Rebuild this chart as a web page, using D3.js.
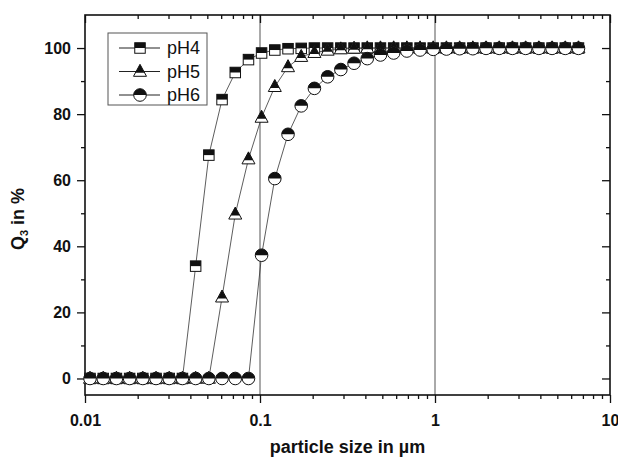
<!DOCTYPE html>
<html>
<head>
<meta charset="utf-8">
<script src="https://cdn.jsdelivr.net/npm/d3@7"></script>
<style>
  html, body { margin: 0; padding: 0; background: #fff; }
  svg { display: block; }
  text { font-family: "Liberation Sans", Arial, Helvetica, sans-serif; }
</style>
</head>
<body>
<svg id="chart" width="618" height="459"></svg>
<script>
// ---- data ----
const particleSize = [
  0.01068, 0.01271, 0.01512, 0.01799, 0.02140, 0.02546, 0.03029, 0.03604,
  0.04288, 0.05102, 0.06070, 0.07222, 0.08593, 0.1021, 0.1215, 0.1446,
  0.1720, 0.2046, 0.2435, 0.2897, 0.3447, 0.4101, 0.4879, 0.5805,
  0.6906, 0.8217, 0.9767, 1.162, 1.383, 1.645, 1.957, 2.328,
  2.770, 3.296, 3.922, 4.666, 5.551, 6.605
];
const pH4 = [
  0, 0, 0, 0, 0, 0, 0, 0,
  34, 67.6, 84.4, 92.6, 96.5, 98.5, 99.4, 99.8,
  99.9, 100, 100, 100, 100, 100, 100, 100,
  100, 100, 100, 100, 100, 100, 100, 100,
  100, 100, 100, 100, 100, 100
];
const pH5 = [
  0, 0, 0, 0, 0, 0, 0, 0,
  0, 0, 24.6, 49.7, 66.4, 79, 88.3, 94.3,
  97.4, 98.6, 99.3, 99.7, 99.9, 100, 100, 100,
  100, 100, 100, 100, 100, 100, 100, 100,
  100, 100, 100, 100, 100, 100
];
const pH6 = [
  0, 0, 0, 0, 0, 0, 0, 0,
  0, 0, 0, 0, 0, 37.3, 60.5, 73.9,
  82.5, 87.8, 91.3, 93.5, 95.4, 96.8, 97.9, 98.5,
  99.1, 99.4, 99.6, 99.7, 99.8, 99.8, 99.9, 99.9,
  99.9, 99.9, 99.9, 99.9, 99.9, 99.9
];
const seriesNames = ["pH4", "pH5", "pH6"];
const seriesShapes = ["square", "triangle", "circle"];
const xTickValues = [0.01, 0.1, 1, 10];
const xTickLabels = ["0.01", "0.1", "1", "10"];
const xGridValues = [0.1, 1];
const yTickValues = [0, 20, 40, 60, 80, 100];
const yTickLabels = ["0", "20", "40", "60", "80", "100"];
const yMinorValues = [10, 30, 50, 70, 90];

// ---- layout ----
const W = 618, H = 459;
const margin = { left: 85, top: 15, right: 8, bottom: 64 };
const x = d3.scaleLog().domain([0.01, 10]).range([margin.left, W - margin.right]);
const y = d3.scaleLinear().domain([-5, 110]).range([H - margin.bottom, margin.top]);
const x0 = x.range()[0], x1 = x.range()[1], y0 = y.range()[0], y1 = y.range()[1];

const svg = d3.select("#chart");
const xMinorValues = [];
[0.01, 0.1, 1].forEach(dec => { for (let k = 2; k <= 9; k++) xMinorValues.push(+(dec * k).toPrecision(3)); });

// grid lines at 0.1 and 1
svg.append("g").selectAll("line").data(xGridValues).join("line")
  .attr("x1", d => x(d)).attr("x2", d => x(d))
  .attr("y1", y1).attr("y2", y0)
  .attr("stroke", "#555").attr("stroke-width", 1);

function styleAxis(g) {
  g.select(".domain").remove();
  g.selectAll(".tick line").attr("stroke", "#111").attr("stroke-width", 1.3);
  g.selectAll(".tick text").attr("fill", "#111")
    .style("font-size", "16px").style("font-weight", "bold");
}

// bottom axis (outward ticks)
svg.append("g").attr("transform", `translate(0,${y0})`)
  .call(d3.axisBottom(x).tickValues(xTickValues).tickSize(8).tickSizeOuter(0)
    .tickPadding(12).tickFormat((d, i) => xTickLabels[i]))
  .call(styleAxis);
svg.append("g").attr("transform", `translate(0,${y0})`)
  .call(d3.axisBottom(x).tickValues(xMinorValues).tickSize(4).tickSizeOuter(0).tickFormat(""))
  .call(styleAxis);
// top axis (inward ticks)
svg.append("g").attr("transform", `translate(0,${y1})`)
  .call(d3.axisBottom(x).tickValues(xTickValues).tickSize(8).tickSizeOuter(0).tickFormat(""))
  .call(styleAxis);
svg.append("g").attr("transform", `translate(0,${y1})`)
  .call(d3.axisBottom(x).tickValues(xMinorValues).tickSize(4).tickSizeOuter(0).tickFormat(""))
  .call(styleAxis);
// left axis (outward ticks)
svg.append("g").attr("transform", `translate(${x0},0)`)
  .call(d3.axisLeft(y).tickValues(yTickValues).tickSize(8).tickSizeOuter(0)
    .tickPadding(6).tickFormat((d, i) => yTickLabels[i]))
  .call(styleAxis);
svg.append("g").attr("transform", `translate(${x0},0)`)
  .call(d3.axisLeft(y).tickValues(yMinorValues).tickSize(4).tickSizeOuter(0).tickFormat(""))
  .call(styleAxis);
// right axis (inward ticks)
svg.append("g").attr("transform", `translate(${x1},0)`)
  .call(d3.axisLeft(y).tickValues(yTickValues).tickSize(8).tickSizeOuter(0).tickFormat(""))
  .call(styleAxis);
svg.append("g").attr("transform", `translate(${x1},0)`)
  .call(d3.axisLeft(y).tickValues(yMinorValues).tickSize(4).tickSizeOuter(0).tickFormat(""))
  .call(styleAxis);

// frame
svg.append("rect").attr("x", x0).attr("y", y1).attr("width", x1 - x0).attr("height", y0 - y1)
  .attr("fill", "none").attr("stroke", "#111").attr("stroke-width", 1.6);

// ---- marker drawing ----
function drawMarker(g, shape) {
  const stroke = "#111", sw = 1;
  if (shape === "square") {
    const s = 10.5;
    g.append("rect").attr("x", -s / 2).attr("y", -s / 2).attr("width", s).attr("height", s)
      .attr("fill", "#fff").attr("stroke", stroke).attr("stroke-width", sw);
    g.append("rect").attr("x", -s / 2).attr("y", -s / 2).attr("width", s).attr("height", s / 2)
      .attr("fill", "#111");
  } else if (shape === "triangle") {
    const w = 13, h = 12, top = -h * 0.6, bot = h * 0.4;
    g.append("path").attr("d", `M0,${top}L${w / 2},${bot}L${-w / 2},${bot}Z`)
      .attr("fill", "#fff").attr("stroke", stroke).attr("stroke-width", sw).attr("stroke-linejoin", "miter");
    const f = 0.707, cy = top + f * h, hw = (w / 2) * f;
    g.append("path").attr("d", `M0,${top}L${hw},${cy}L${-hw},${cy}Z`).attr("fill", "#111");
  } else {
    const r = 6.3;
    g.append("circle").attr("r", r).attr("fill", "#fff").attr("stroke", stroke).attr("stroke-width", sw);
    g.append("path").attr("d", `M${-r},0A${r},${r} 0 0 1 ${r},0Z`).attr("fill", "#111");
  }
}

const seriesData = [pH4, pH5, pH6];
const line = d3.line().x(d => x(d[0])).y(d => y(d[1]));

seriesData.forEach((vals, si) => {
  const pts = particleSize.map((s, i) => [s, vals[i]]);
  svg.append("path").datum(pts).attr("d", line)
    .attr("fill", "none").attr("stroke", "#333").attr("stroke-width", 0.8);
});
seriesData.forEach((vals, si) => {
  const pts = particleSize.map((s, i) => [s, vals[i]]);
  svg.append("g").selectAll("g").data(pts).join("g")
    .attr("transform", d => `translate(${x(d[0])},${y(d[1])})`)
    .each(function () { drawMarker(d3.select(this), seriesShapes[si]); });
});

// ---- legend ----
const lg = svg.append("g");
lg.append("rect").attr("x", 108).attr("y", 33).attr("width", 99).attr("height", 72)
  .attr("fill", "#fff").attr("stroke", "#555").attr("stroke-width", 1);
seriesNames.forEach((name, i) => {
  const cy = 48 + i * 23.5;
  lg.append("line").attr("x1", 119).attr("x2", 160).attr("y1", cy).attr("y2", cy)
    .attr("stroke", "#222").attr("stroke-width", 1);
  const mg = lg.append("g").attr("transform", `translate(140,${cy})`);
  drawMarker(mg, seriesShapes[i]);
  lg.append("text").attr("x", 167).attr("y", cy).attr("dy", "0.36em")
    .style("font-size", "18px").attr("fill", "#111").text(name);
});

// ---- axis titles ----
svg.append("text").attr("x", (x0 + x1) / 2).attr("y", 453).attr("text-anchor", "middle")
  .style("font-size", "18px").style("font-weight", "bold").attr("fill", "#111")
  .text("particle size in µm");

const yt = svg.append("text").attr("transform", `translate(24,${(y0 + y1) / 2 + 14}) rotate(-90)`)
  .attr("text-anchor", "middle").style("font-size", "18px").style("font-weight", "bold").attr("fill", "#111");
yt.append("tspan").text("Q");
yt.append("tspan").attr("dy", 4).style("font-size", "11px").text("3");
yt.append("tspan").attr("dy", -4).text(" in %");
</script>
</body>
</html>
